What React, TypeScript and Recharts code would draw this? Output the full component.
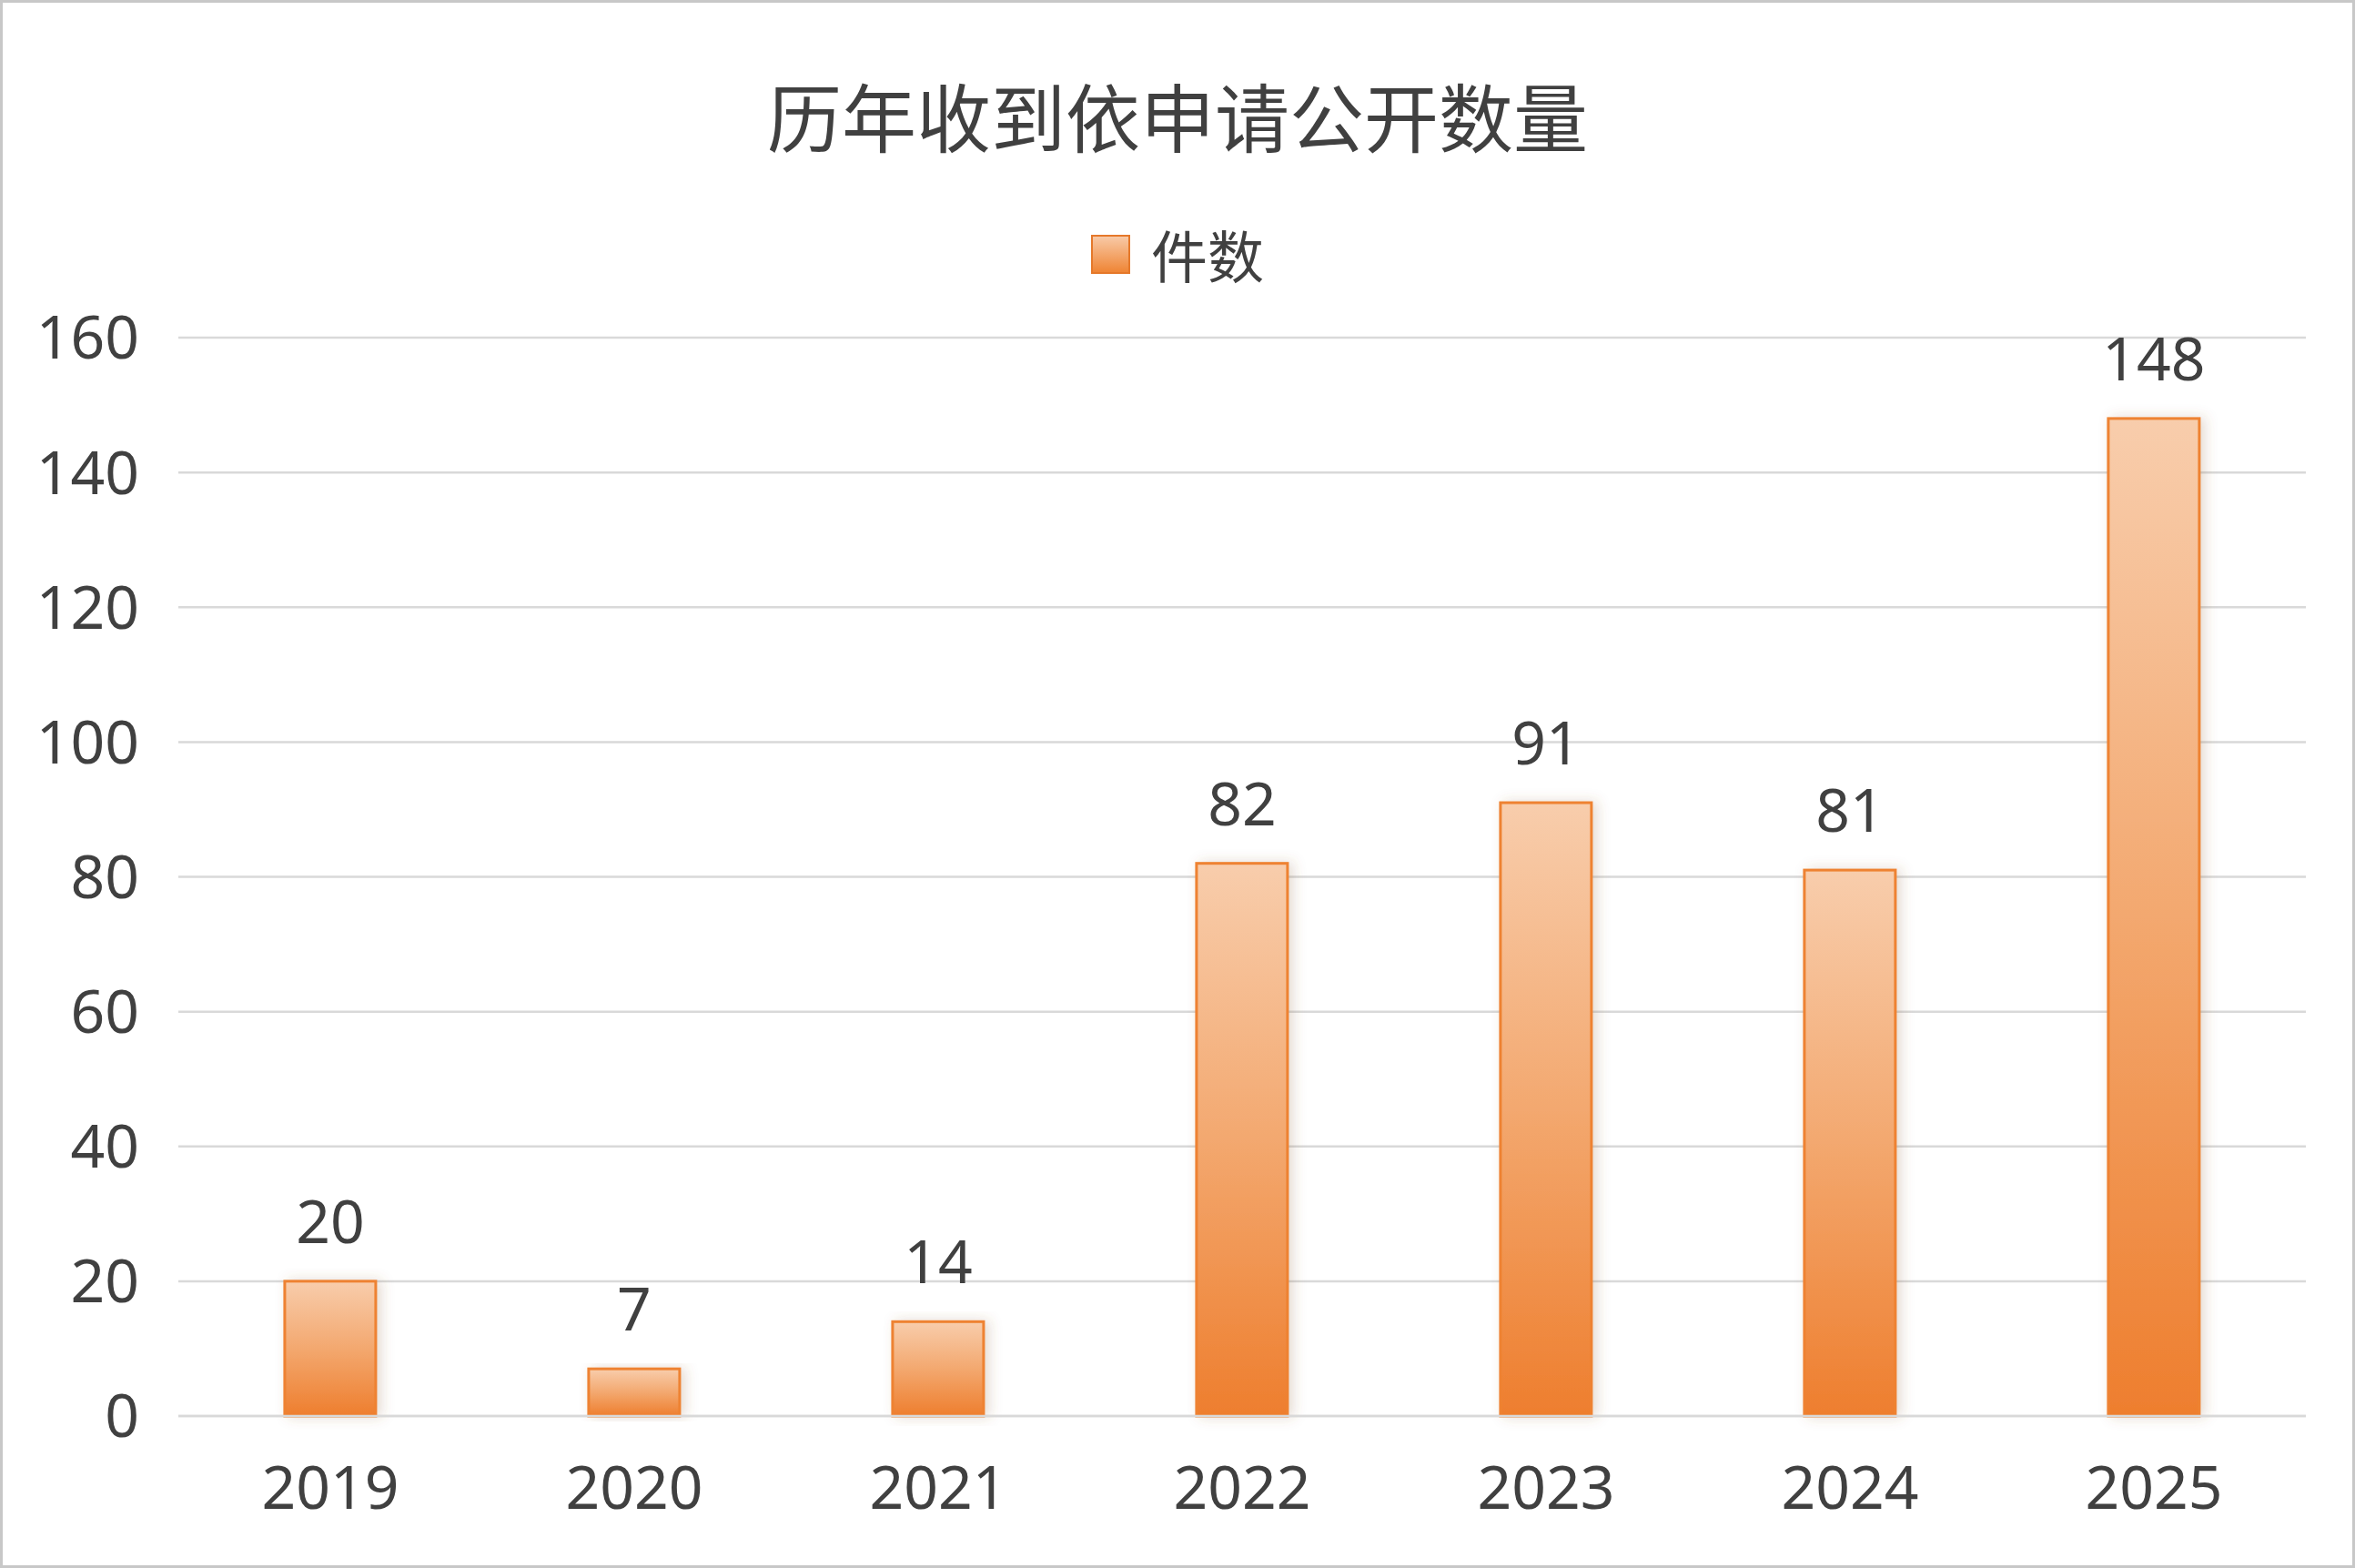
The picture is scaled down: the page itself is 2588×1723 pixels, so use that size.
import { BarChart, Bar, XAxis, YAxis, CartesianGrid, LabelList } from 'recharts';

const years = ['2019', '2020', '2021', '2022', '2023', '2024', '2025'];
const counts = [20, 7, 14, 82, 91, 81, 148];
const yTicks = [0, 20, 40, 60, 80, 100, 120, 140, 160];
const seriesName = '件数';
const title = '历年收到依申请公开数量';

const data = years.map((year, i) => ({ year, count: counts[i] }));

const TEXT = '#404040';
const FONT = '"Noto Sans", "Noto Sans CJK SC", sans-serif';

const GradientBar = (props: any) => {
  const { x, y, width, height } = props;
  if (!height || height <= 0) return null;
  return (
    <rect
      x={x}
      y={y}
      width={width}
      height={height}
      fill="url(#barGrad)"
      stroke="#ee8230"
      strokeWidth={3}
      filter="url(#barShadow)"
    />
  );
};

export default function App() {
  return (
    <div style={{ position: 'absolute', top: 0, left: 0, width: 2588, height: 1723, background: '#fff' }}>
      <div
        style={{
          position: 'absolute',
          top: 85,
          left: 0,
          width: 2588,
          textAlign: 'center',
          fontFamily: '"Noto Sans CJK SC", sans-serif',
          fontSize: 82,
          lineHeight: '82px',
          color: TEXT,
        }}
      >
        {title}
      </div>
      {/* legend */}
      <div
        style={{
          position: 'absolute',
          top: 248,
          left: 0,
          width: 2588,
          display: 'flex',
          justifyContent: 'center',
          alignItems: 'center',
          fontFamily: '"Noto Sans CJK SC", sans-serif',
          fontSize: 62,
          lineHeight: '62px',
          color: TEXT,
        }}
      >
        <span
          style={{
            display: 'inline-block',
            width: 39,
            height: 39,
            border: '2px solid #e5782a',
            background: 'linear-gradient(to bottom, #f8c9a6, #ef8535)',
            marginRight: 23,
          }}
        />
        <span>{seriesName}</span>
      </div>
      <BarChart
        width={2588}
        height={1723}
        data={data}
        margin={{ top: 371, right: 54, bottom: 0, left: 0 }}
        barCategoryGap="35%"
      >
        <defs>
          <linearGradient id="barGrad" x1="0" y1="0" x2="0" y2="1">
            <stop offset="0%" stopColor="#f8cdac" />
            <stop offset="50%" stopColor="#f3a86f" />
            <stop offset="100%" stopColor="#ee7e2e" />
          </linearGradient>
          <filter id="barShadow" x="-30%" y="-10%" width="160%" height="120%">
            <feDropShadow dx="5" dy="0" stdDeviation="7" floodColor="#8a5a3a" floodOpacity="0.22" />
          </filter>
        </defs>
        <CartesianGrid vertical={false} stroke="#d9d9d9" strokeWidth={2.5} />
        <XAxis
          dataKey="year"
          height={167}
          axisLine={{ stroke: '#d9d9d9', strokeWidth: 2.5 }}
          tickLine={false}
          tickSize={0}
          tickMargin={55}
          tick={{ fill: TEXT, fontSize: 66, fontFamily: FONT }}
        />
        <YAxis
          width={196}
          domain={[0, 160]}
          ticks={yTicks}
          axisLine={false}
          tickLine={false}
          tickSize={0}
          tickMargin={43}
          tick={{ fill: TEXT, fontSize: 66, fontFamily: FONT }}
        />
        <Bar dataKey="count" name={seriesName} shape={<GradientBar />} isAnimationActive={false}>
          <LabelList
            dataKey="count"
            position="top"
            offset={42}
            fill={TEXT}
            fontSize={66}
            fontFamily={FONT}
          />
        </Bar>
      </BarChart>
      <div
        style={{
          position: 'absolute',
          inset: 0,
          border: '3px solid #c8c8c8',
          boxSizing: 'border-box',
          pointerEvents: 'none',
        }}
      />
    </div>
  );
}
